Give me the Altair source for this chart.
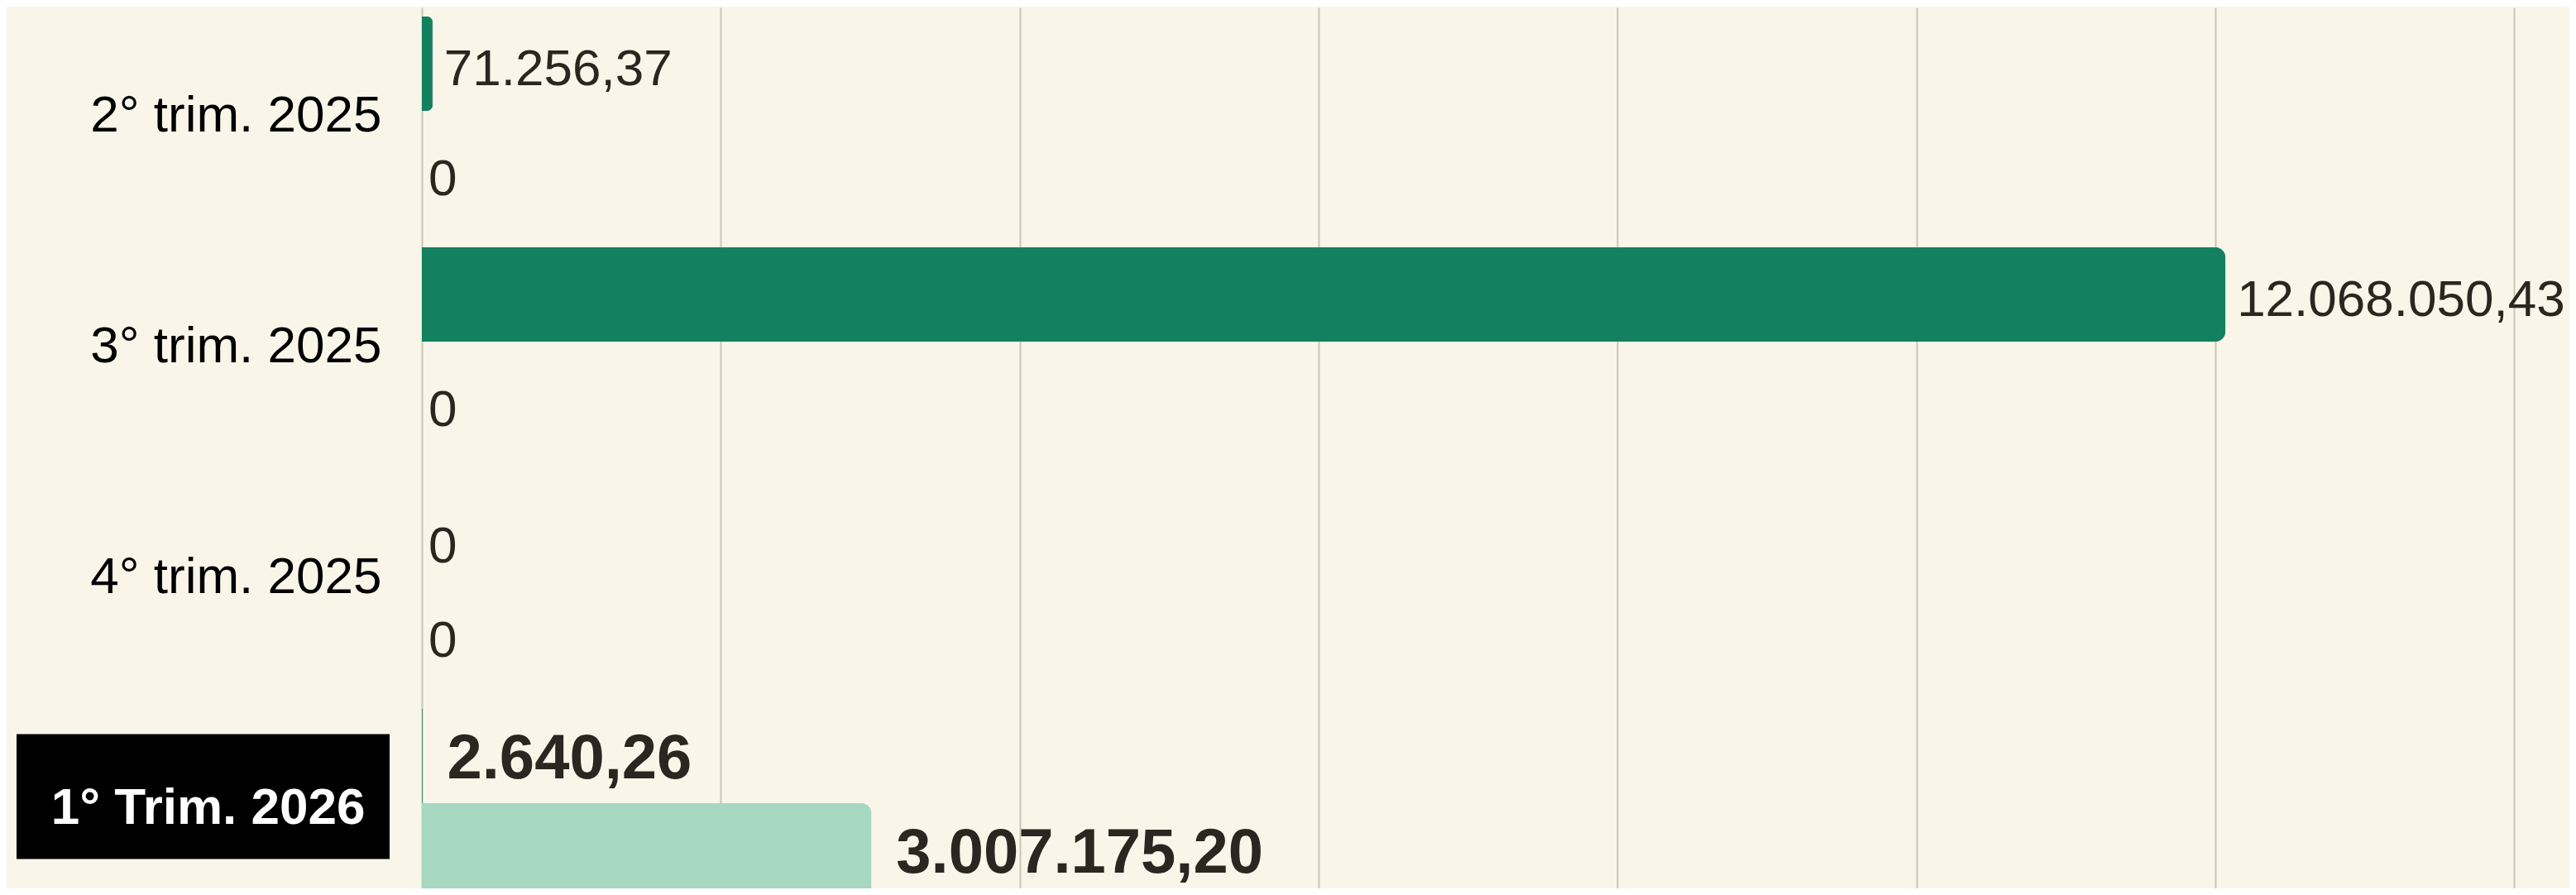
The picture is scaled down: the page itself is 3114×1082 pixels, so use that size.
import altair as alt
import pandas as pd

# ---- data ----
categories = ["2° trim. 2025", "3° trim. 2025", "4° trim. 2025", "1° Trim. 2026"]
series_names = ["Serie 1", "Serie 2"]
values_1 = [71256.37, 12068050.43, 0, 2640.26]
values_2 = [0, 0, 0, 3007175.20]
grid_ticks = [0, 2000000, 4000000, 6000000, 8000000, 10000000, 12000000, 14000000]
highlight = "1° Trim. 2026"


def fmt_it(v):
    if v == 0:
        return "0"
    s = f"{v:,.2f}"
    return s.replace(",", "X").replace(".", ",").replace("X", ".")


rows = []
for c, a, b in zip(categories, values_1, values_2):
    rows.append({"cat": c, "serie": series_names[0], "value": a, "label": fmt_it(a)})
    rows.append({"cat": c, "serie": series_names[1], "value": b, "label": fmt_it(b)})
df = pd.DataFrame(rows)

# ---- style ----
BG = "#f9f6e9"
DARK = "#13805f"
LIGHT = "#a5d8bf"
TEXT = "#2b2620"
GRID = "#c9c6b8"
FONT = "Liberation Sans"

is_hl = f"datum.value == '{highlight}'"

x_scale = alt.Scale(domain=[0, 14370000], nice=False, zero=True)
y_scale = alt.Scale(domain=categories, range=[0, 1065], paddingInner=0.183, paddingOuter=0)
yoff_scale = alt.Scale(domain=series_names, paddingInner=0, paddingOuter=0)
color_scale = alt.Scale(domain=series_names, range=[DARK, LIGHT])

y_axis = alt.Axis(
    title=None,
    ticks=False,
    tickSize=0,
    domain=False,
    labelFont=FONT,
    labelFontSize=62,
    labelPadding={"condition": {"test": is_hl, "value": 69}, "value": 49},
    labelOffset=6,
    labelLimit=800,
    labelColor={"condition": {"test": is_hl, "value": "white"}, "value": "black"},
    labelFontWeight={"condition": {"test": is_hl, "value": "bold"}, "value": "normal"},
    zindex=1,
)

x_axis = alt.Axis(
    title=None,
    values=grid_ticks,
    grid=True,
    gridColor=GRID,
    gridWidth=2,
    labels=False,
    ticks=False,
    domain=False,
)

base = alt.Chart(df)

bars = base.mark_bar(cornerRadiusEnd=12).encode(
    x=alt.X("value:Q", scale=x_scale, axis=x_axis),
    y=alt.Y("cat:N", scale=y_scale, axis=y_axis, sort=categories),
    yOffset=alt.YOffset("serie:N", scale=yoff_scale, sort=series_names),
    color=alt.Color("serie:N", scale=color_scale, legend=None),
    stroke=alt.Stroke("serie:N", scale=color_scale, legend=None),
    strokeWidth=alt.condition(alt.datum.value > 0, alt.value(1), alt.value(0)),
)

box = base.transform_filter(
    (alt.datum.cat == highlight) & (alt.datum.serie == series_names[0])
).mark_rect(color="black", height=151, yOffset=-8).encode(
    y=alt.Y("cat:N", scale=y_scale, sort=categories),
    x=alt.value(-490),
    x2=alt.value(-39),
)


def text_layer(flt, **kw):
    return base.transform_filter(flt).mark_text(
        align="left", baseline="middle", font=FONT, color=TEXT, **kw
    ).encode(
        x=alt.X("value:Q", scale=x_scale),
        y=alt.Y("cat:N", scale=y_scale, sort=categories),
        yOffset=alt.YOffset("serie:N", scale=yoff_scale, sort=series_names),
        text="label:N",
    )


labels_regular = text_layer((alt.datum.cat != highlight) & (alt.datum.value > 0), dx=14, dy=7, fontSize=62)
labels_zero = text_layer((alt.datum.cat != highlight) & (alt.datum.value == 0), dx=8, dy=26, fontSize=62)
labels_bold = text_layer(alt.datum.cat == highlight, dx=30, dy=4, fontSize=76, fontWeight="bold")

chart = alt.layer(box, bars, labels_regular, labels_zero, labels_bold).properties(
    width=2596,
    height=1054,
    autosize=alt.AutoSizeParams(type="none"),
    padding={"left": 502, "top": 12, "right": 0, "bottom": 0},
    background=BG,
).configure_view(stroke=None)

chart.save("out.html", embed_options={"renderer": "svg", "actions": False})
